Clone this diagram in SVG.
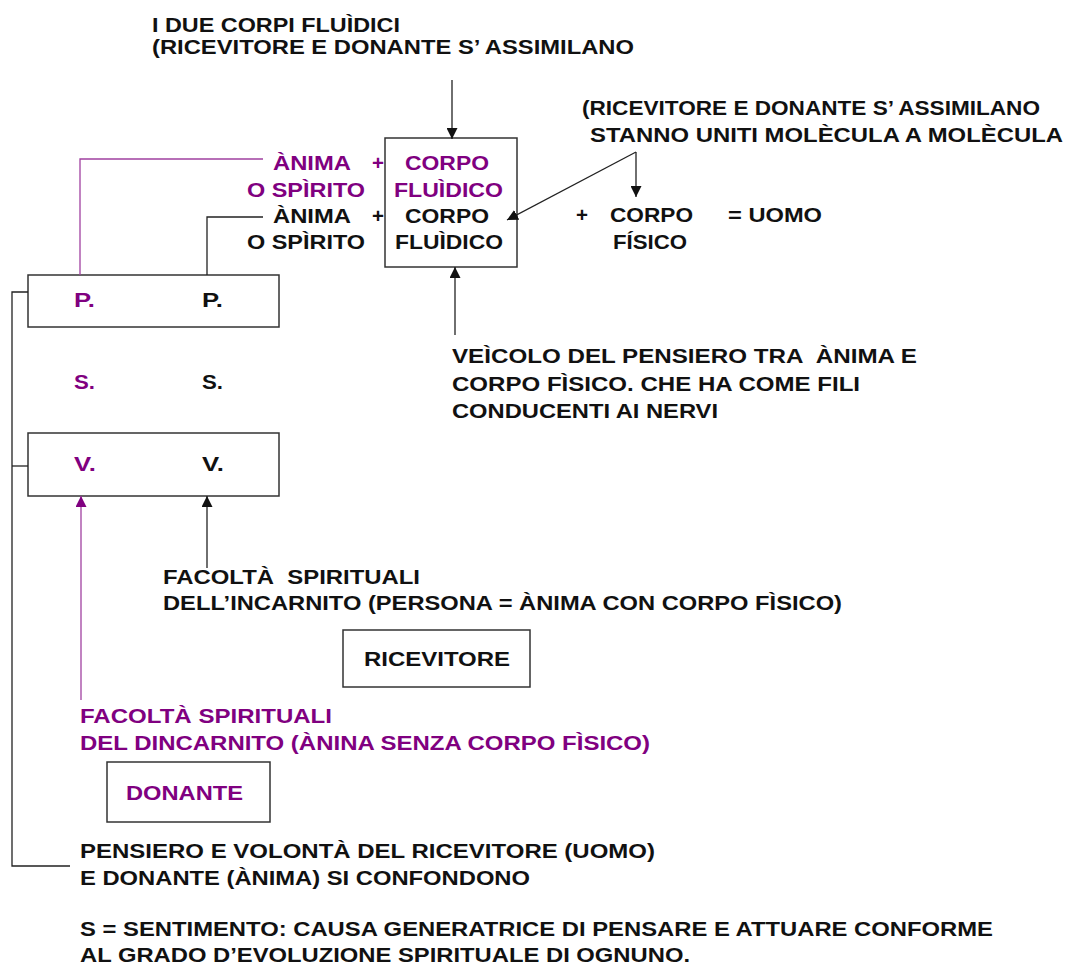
<svg xmlns="http://www.w3.org/2000/svg" width="1072" height="965" viewBox="0 0 1072 965">
<style>
text{font-family:"Liberation Sans",Arial,sans-serif;font-weight:bold;font-size:20.5px;fill:#111;white-space:pre}
.p{fill:#800080}
.box{fill:#fff;stroke:#333;stroke-width:1.5}
.ln{fill:none;stroke:#222;stroke-width:1.3}
.lp{fill:none;stroke:#a040a0;stroke-width:1.3}
</style>
<defs>
<marker id="ah" viewBox="0 0 10 10" refX="10" refY="5" markerWidth="11" markerHeight="11" markerUnits="userSpaceOnUse" orient="auto"><path d="M0,0L10,5L0,10z" fill="#111"/></marker>
<marker id="ahp" viewBox="0 0 10 10" refX="10" refY="5" markerWidth="11" markerHeight="11" markerUnits="userSpaceOnUse" orient="auto"><path d="M0,0L10,5L0,10z" fill="#800080"/></marker>
</defs>
<rect width="1072" height="965" fill="#fff"/>
<g id="top-label">
<text x="152" y="32" textLength="248" lengthAdjust="spacingAndGlyphs">I DUE CORPI FLUÌDICI</text>
<text x="152" y="54" textLength="482" lengthAdjust="spacingAndGlyphs">(RICEVITORE E DONANTE S’ ASSIMILANO</text>
</g>
<g id="right-label">
<text x="582" y="115" textLength="458" lengthAdjust="spacingAndGlyphs">(RICEVITORE E DONANTE S’ ASSIMILANO</text>
<text x="590" y="142" textLength="473" lengthAdjust="spacingAndGlyphs">STANNO UNITI MOLÈCULA A MOLÈCULA</text>
</g>
<g id="corpo-fluidico">
<rect class="box" x="385" y="138" width="132" height="129"/>
<text class="p" x="405" y="170" textLength="84" lengthAdjust="spacingAndGlyphs">CORPO</text>
<text class="p" x="394" y="197" textLength="109" lengthAdjust="spacingAndGlyphs">FLUÌDICO</text>
<text x="405" y="223" textLength="84" lengthAdjust="spacingAndGlyphs">CORPO</text>
<text x="395" y="249" textLength="108" lengthAdjust="spacingAndGlyphs">FLUÌDICO</text>
</g>
<g id="anima-purple">
<text class="p" x="273" y="170" textLength="78" lengthAdjust="spacingAndGlyphs">ÀNIMA</text>
<text class="p" x="372" y="170">+</text>
<text class="p" x="247" y="197" textLength="118" lengthAdjust="spacingAndGlyphs">O SPÌRITO</text>
</g>
<g id="anima-black">
<text x="273" y="223" textLength="78" lengthAdjust="spacingAndGlyphs">ÀNIMA</text>
<text x="372" y="223">+</text>
<text x="247" y="249" textLength="118" lengthAdjust="spacingAndGlyphs">O SPÌRITO</text>
</g>
<g id="uomo">
<text x="576" y="222">+</text>
<text x="610" y="222" textLength="83" lengthAdjust="spacingAndGlyphs">CORPO</text>
<text x="613" y="249" textLength="74" lengthAdjust="spacingAndGlyphs">FÍSICO</text>
<text x="728" y="222" textLength="94" lengthAdjust="spacingAndGlyphs">= UOMO</text>
</g>
<g id="veicolo">
<text x="452" y="363" textLength="465" lengthAdjust="spacingAndGlyphs">VEÌCOLO DEL PENSIERO TRA  ÀNIMA E</text>
<text x="452" y="391" textLength="408" lengthAdjust="spacingAndGlyphs">CORPO FÌSICO. CHE HA COME FILI</text>
<text x="452" y="418" textLength="266" lengthAdjust="spacingAndGlyphs">CONDUCENTI AI NERVI</text>
</g>
<g id="box-p">
<rect class="box" x="28" y="275" width="251" height="52"/>
<text class="p" x="74" y="307" textLength="21" lengthAdjust="spacingAndGlyphs">P.</text>
<text x="202" y="307" textLength="21" lengthAdjust="spacingAndGlyphs">P.</text>
</g>
<g id="s">
<text class="p" x="74" y="389" textLength="21" lengthAdjust="spacingAndGlyphs">S.</text>
<text x="202" y="389" textLength="21" lengthAdjust="spacingAndGlyphs">S.</text>
</g>
<g id="box-v">
<rect class="box" x="28" y="433" width="251" height="63"/>
<text class="p" x="74" y="471" textLength="22" lengthAdjust="spacingAndGlyphs">V.</text>
<text x="202" y="471" textLength="22" lengthAdjust="spacingAndGlyphs">V.</text>
</g>
<g id="facolta-incarnito">
<text x="163" y="584" textLength="257" lengthAdjust="spacingAndGlyphs">FACOLTÀ  SPIRITUALI</text>
<text x="163" y="610" textLength="679" lengthAdjust="spacingAndGlyphs">DELL’INCARNITO (PERSONA = ÀNIMA CON CORPO FÌSICO)</text>
</g>
<g id="ricevitore">
<rect class="box" x="343" y="630" width="187" height="57"/>
<text x="364" y="666" textLength="146" lengthAdjust="spacingAndGlyphs">RICEVITORE</text>
</g>
<g id="facolta-dincarnito">
<text class="p" x="80" y="723" textLength="252" lengthAdjust="spacingAndGlyphs">FACOLTÀ SPIRITUALI</text>
<text class="p" x="80" y="750" textLength="570" lengthAdjust="spacingAndGlyphs">DEL DINCARNITO (ÀNINA SENZA CORPO FÌSICO)</text>
</g>
<g id="donante">
<rect class="box" x="107" y="762" width="163" height="60"/>
<text class="p" x="126" y="800" textLength="117" lengthAdjust="spacingAndGlyphs">DONANTE</text>
</g>
<g id="pensiero">
<text x="80" y="858" textLength="575" lengthAdjust="spacingAndGlyphs">PENSIERO E VOLONTÀ DEL RICEVITORE (UOMO)</text>
<text x="80" y="885" textLength="450" lengthAdjust="spacingAndGlyphs">E DONANTE (ÀNIMA) SI CONFONDONO</text>
</g>
<g id="legend">
<text x="80" y="936" textLength="913" lengthAdjust="spacingAndGlyphs">S = SENTIMENTO: CAUSA GENERATRICE DI PENSARE E ATTUARE CONFORME</text>
<text x="80" y="962" textLength="610" lengthAdjust="spacingAndGlyphs">AL GRADO D’EVOLUZIONE SPIRITUALE DI OGNUNO.</text>
</g>
<g id="connectors">
<line class="ln" x1="452" y1="80" x2="452" y2="139" marker-end="url(#ah)"/>
<line class="ln" x1="455" y1="335" x2="455" y2="267" marker-end="url(#ah)"/>
<line class="ln" x1="636" y1="152" x2="507" y2="220" marker-end="url(#ah)"/>
<line class="ln" x1="636" y1="152" x2="636" y2="197" marker-end="url(#ah)"/>
<polyline class="lp" points="263,159 80,159 80,275"/>
<polyline class="ln" points="263,217 207,217 207,275"/>
<polyline class="ln" points="28,292 12,292 12,866 70,866"/>
<line class="ln" x1="12" y1="466" x2="28" y2="466"/>
<line class="ln" x1="207" y1="568" x2="207" y2="496" marker-end="url(#ah)"/>
<line class="lp" x1="81" y1="700" x2="81" y2="496" marker-end="url(#ahp)"/>
</g>
</svg>
